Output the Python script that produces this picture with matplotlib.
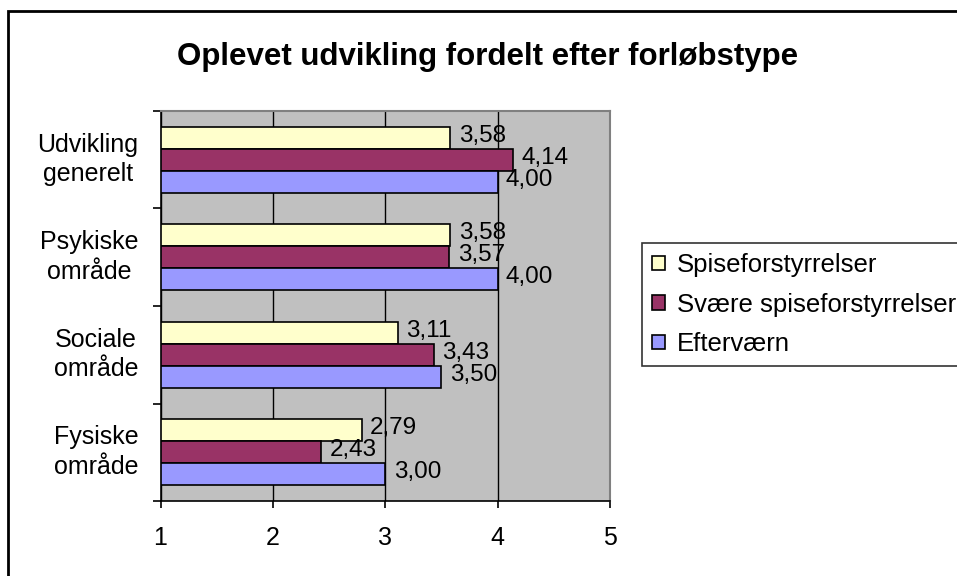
import numpy as np
import matplotlib
matplotlib.use("Agg")
import matplotlib.pyplot as plt
from matplotlib.patches import Rectangle
from matplotlib.transforms import ScaledTranslation

plt.rcParams['font.family'] = ['Liberation Sans', 'DejaVu Sans']

categories = ["Udvikling\ngenerelt", "Psykiske\nområde", "Sociale\nområde", "Fysiske\nområde"]
series = ["Spiseforstyrrelser", "Svære spiseforstyrrelser", "Efterværn"]
spise = [3.58, 3.58, 3.11, 2.79]
svaere = [4.14, 3.57, 3.43, 2.43]
efter = [4.00, 4.00, 3.50, 3.00]
colors = ["#FFFFCC", "#993366", "#9999FF"]
xticks = [1, 2, 3, 4, 5]

fig = plt.figure(figsize=(9.57, 5.76), dpi=100)
ax = fig.add_axes([160.5 / 957, 75 / 576, 449.5 / 957, 390 / 576])
ax.set_facecolor("#C0C0C0")

y = np.arange(len(categories))
h = 0.225
for i, (vals, name, c) in enumerate(zip([spise, svaere, efter], series, colors)):
    pos = y + (i - 1) * h
    ax.barh(pos, np.array(vals) - 1, left=1, height=h, color=c,
            edgecolor="black", linewidth=1.2, label=name, zorder=3)
    for p, v in zip(pos, vals):
        ax.annotate(f"{v:.2f}".replace(".", ","), (v, p), xytext=(6, 1.5),
                    textcoords="offset points", va="center", ha="left",
                    fontsize=17.5, zorder=4)

ax.set_xlim(1, 5)
ax.set_ylim(len(categories) - 0.5, -0.5)
ax.set_xticks(xticks)
ax.set_xticklabels([str(t) for t in xticks], fontsize=18)
ax.tick_params(axis="x", length=5, width=1.2, pad=13, direction="out")

ax.set_yticks(np.arange(len(categories) + 1) - 0.5)
ax.set_yticklabels([])
ax.tick_params(axis="y", which="major", length=6, width=1.2, direction="out")
ax.set_yticks(y, minor=True)
ax.set_yticklabels(categories, minor=True, fontsize=18, multialignment="center",
                   linespacing=1.3)
ax.tick_params(axis="y", which="minor", length=0, pad=16)
shift = ScaledTranslation(0, 4 / 72, fig.dpi_scale_trans)
for lab in ax.get_yticklabels(minor=True):
    lab.set_transform(lab.get_transform() + shift)

ax.grid(axis="x", color="black", linewidth=1)
ax.set_axisbelow(True)
for s in ["top", "right"]:
    ax.spines[s].set_color("#808080")
    ax.spines[s].set_linewidth(1.5)
for s in ["left", "bottom"]:
    ax.spines[s].set_color("black")
    ax.spines[s].set_linewidth(1.2)

fig.text(488 / 957, 1 - 57 / 576, "Oplevet udvikling fordelt efter forløbstype",
         ha="center", va="center", fontsize=22.5, fontweight="bold")

leg = ax.legend(loc="upper left", bbox_to_anchor=(642 / 957, 1 - 243 / 576),
                bbox_transform=fig.transFigure, fontsize=18.5, frameon=True,
                fancybox=False, edgecolor="black", borderaxespad=0,
                handlelength=0.5, handleheight=0.5, handletextpad=0.45,
                labelspacing=0.6, borderpad=0.4)
leg.get_frame().set_linewidth(1.2)

fig.patches.append(Rectangle((8 / 957, -0.1), 1.2, 1.1 - 11 / 576,
                             transform=fig.transFigure, fill=False,
                             edgecolor="black", linewidth=2))

fig.savefig("out.png", dpi=100)
